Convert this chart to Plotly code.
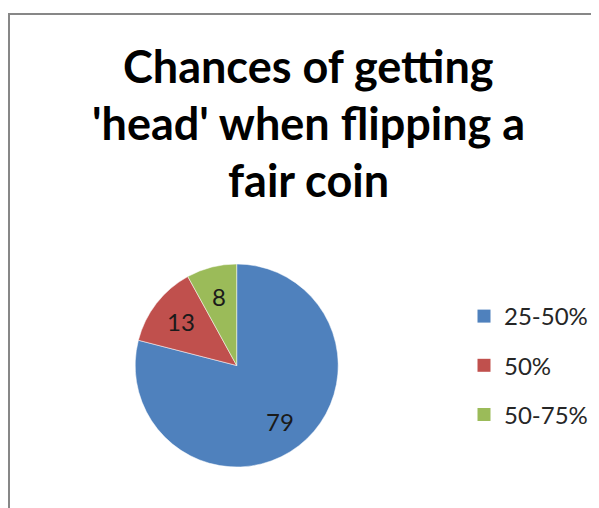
import math
import plotly.graph_objects as go

categories = ["25-50%", "50%", "50-75%"]
values = [79, 13, 8]
colors = ["#4F81BD", "#C0504D", "#9BBB59"]
title_lines = ["Chances of getting", "'head' when flipping a", "fair coin"]

OFF = 8  # page body margin in the browser
W, H = 599 - OFF, 508 - OFF
CX, CY, R = 236.7 - OFF, 365.5 - OFF, 101.5  # pie centre / radius (pixels in figure)

def px(x):
    return x / W

def py(y):
    return 1 - y / H

fig = go.Figure()
fig.add_trace(go.Pie(
    labels=categories, values=values, sort=False, direction="clockwise", rotation=0,
    marker=dict(colors=colors, line=dict(color="white", width=0.5)),
    textinfo="none", showlegend=False, hoverinfo="label+value",
    domain=dict(x=[px(CX - R), px(CX + R)], y=[py(CY + R), py(CY - R)]),
))
for cat, col in zip(categories, colors):
    fig.add_trace(go.Scatter(
        x=[None], y=[None], mode="markers", name=cat, legendgroup=cat,
        marker=dict(symbol="square", size=13, color=col),
    ))

# chart-area border (top and left edges; the rest runs off the picture)
bx, by = 9 - OFF, H - (14 - OFF)
fig.add_trace(go.Scatter(
    x=[bx, bx, W + 20], y=[-20, by, by], mode="lines", showlegend=False,
    hoverinfo="skip", line=dict(color="#878787", width=2),
))

annotations = []
# data labels at 0.7 r on each slice's mid-angle (clockwise from 12 o'clock)
total = sum(values)
cum = 0
for v in values:
    mid = (cum + v / 2) / total * 2 * math.pi
    cum += v
    lx = CX + 0.7 * R * math.sin(mid)
    ly = CY - 0.7 * R * math.cos(mid)
    annotations.append(dict(text=str(v), x=px(lx), y=py(ly), xref="paper", yref="paper",
                            xanchor="center", yanchor="middle", showarrow=False,
                            font=dict(family="Lato", size=24, color="#1a1a1a")))

title_baselines = [82, 139, 196]
for line, base in zip(title_lines, title_baselines):
    annotations.append(dict(text=line, x=px(308 - OFF), y=py(base - OFF - 16), xref="paper",
                            yref="paper", xanchor="center", yanchor="middle", showarrow=False,
                            font=dict(family="Lato", size=45, color="black", weight="bold")))

fig.update_layout(
    width=W, height=H, margin=dict(l=0, r=0, t=0, b=0),
    paper_bgcolor="white", plot_bgcolor="white",
    xaxis=dict(visible=False, range=[0, W], fixedrange=True),
    yaxis=dict(visible=False, range=[0, H], fixedrange=True),
    showlegend=True,
    legend=dict(x=px(464 - OFF), y=py(294 - OFF), xanchor="left", yanchor="top",
                font=dict(family="Lato", size=24, color="#262626"),
                tracegroupgap=15, itemwidth=30, bgcolor="rgba(0,0,0,0)"),
    annotations=annotations,
)

fig.write_html("out.html")
